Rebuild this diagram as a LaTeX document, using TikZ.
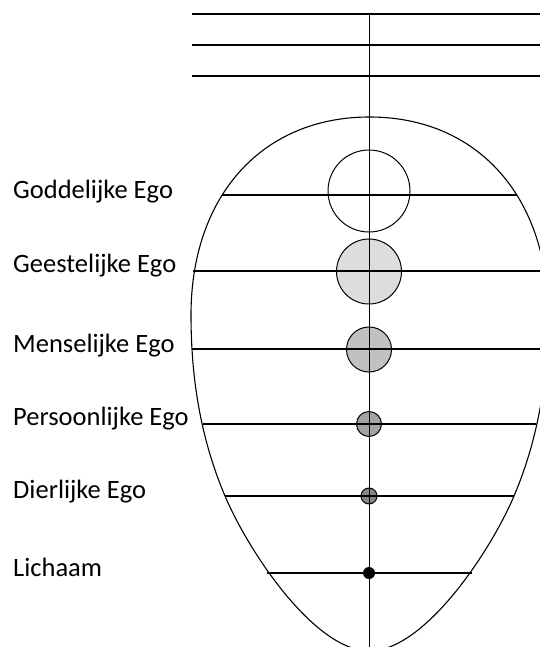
\documentclass[tikz,border=0pt]{standalone}
\usepackage{fontspec}
\setmainfont{Carlito}
\begin{document}
\begin{tikzpicture}[x=1pt,y=-1pt,
  lbl/.style={anchor=base west,inner sep=0pt,font=\fontsize{26.5}{31}\selectfont},
  ego/.style={circle,draw,line width=1pt,inner sep=0pt},
  rule/.style={line width=1.1pt},
  topline/.style={line width=1.7pt},
  axis/.style={line width=1.3pt},
  egg/.style={line width=1.1pt}]
\useasboundingbox (0,0) rectangle (540,647);
\clip (0,0) rectangle (540,647);
\definecolor{c1}{HTML}{DCDDDF}
\definecolor{c2}{HTML}{C0C1C3}
\definecolor{c3}{HTML}{A2A3A5}
\definecolor{c4}{HTML}{858688}

% egg outline
\draw[egg] (369.5,117) .. controls (262,117) and (191,196) .. (191,315)
  .. controls (191,375) and (199.6,436.2) .. (225,496)
  .. controls (248.4,551.2) and (314.5,651) .. (369.5,651)
  .. controls (424.5,651) and (490.6,551.2) .. (514,496)
  .. controls (539.4,436.2) and (548,375) .. (548,315)
  .. controls (548,196) and (477,117) .. (369.5,117) -- cycle;

% top lines
\coordinate (T1a) at (192,14);  \coordinate (T1b) at (545,14);
\coordinate (T2a) at (192,45);  \coordinate (T2b) at (545,45);
\coordinate (T3a) at (192,76);  \coordinate (T3b) at (545,76);
\draw[topline] (T1a) -- (T1b);
\draw[topline] (T2a) -- (T2b);
\draw[topline] (T3a) -- (T3b);

% circles
\node[ego,fill=white,minimum size=82pt] (god) at (369,191) {};
\node[ego,fill=c1,minimum size=65pt] (gees) at (369,271.5) {};
\node[ego,fill=c2,minimum size=45pt] (mens) at (369,349.5) {};
\node[ego,fill=c3,minimum size=25pt] (pers) at (369,424) {};
\node[ego,fill=c4,minimum size=16pt] (dier) at (369,496) {};
\node[circle,fill=black,inner sep=0pt,minimum size=12pt] (lich) at (369,573) {};

% horizontal lines
\coordinate (L1) at (222,195); \coordinate (R1) at (517,195);
\coordinate (L2) at (193,271); \coordinate (R2) at (546,271);
\coordinate (L3) at (192,349); \coordinate (R3) at (547,349);
\coordinate (L4) at (203,424); \coordinate (R4) at (536,424);
\coordinate (L5) at (225,496); \coordinate (R5) at (514,496);
\coordinate (L6) at (267,573); \coordinate (R6) at (472,573);
\foreach \i in {1,...,6} {\draw[rule] (L\i) -- (R\i);}

% vertical axis
\coordinate (Atop) at (369.5,14);
\coordinate (Abot) at (369.5,651);
\draw[axis] (Atop) -- (Abot);

% labels
\node[lbl] (t1) at (13,198) {Goddelijke Ego};
\node[lbl] (t2) at (13,272) {Geestelijke Ego};
\node[lbl] (t3) at (13,352) {Menselijke Ego};
\node[lbl] (t4) at (13,425) {Persoonlijke Ego};
\node[lbl] (t5) at (13,498) {Dierlijke Ego};
\node[lbl] (t6) at (13,576) {Lichaam};
\end{tikzpicture}
\end{document}
